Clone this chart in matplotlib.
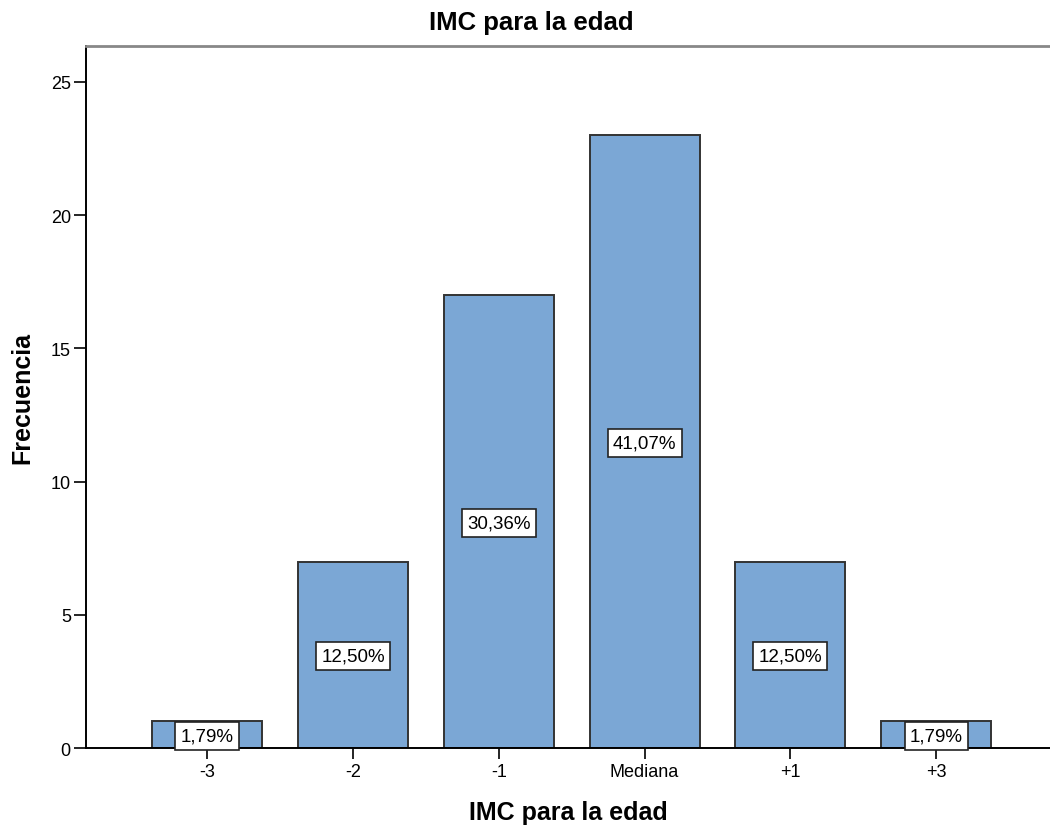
import matplotlib
matplotlib.use("Agg")
import matplotlib.pyplot as plt
import numpy as np

# data
categories = ["-3", "-2", "-1", "Mediana", "+1", "+3"]
frequencies = [1, 7, 17, 23, 7, 1]
percent_labels = ["1,79%", "12,50%", "30,36%", "41,07%", "12,50%", "1,79%"]
y_ticks = [0, 5, 10, 15, 20, 25]

plt.rcParams['font.family'] = ['Liberation Sans', 'DejaVu Sans']

fig = plt.figure(figsize=(10.5, 8.29), dpi=100)
ax = fig.add_axes([0.082, 0.0965, 0.918, 0.8468])

x = np.arange(len(categories))
ax.bar(x, frequencies, width=0.754, color="#7BA7D5", edgecolor="#333333",
       linewidth=1.4, zorder=2)

for xi, h, lbl in zip(x, frequencies, percent_labels):
    ax.text(xi, h / 2 - 0.05, lbl, ha='center', va='center', fontsize=13.5, zorder=4,
            bbox=dict(boxstyle='square,pad=0.28', facecolor='white',
                      edgecolor='#222222', linewidth=1.2))

ax.set_xlim(-0.83, 5.78)
ax.set_ylim(0, 26.35)
ax.set_xticks(x)
ax.set_xticklabels(categories, fontsize=13)
ax.set_yticks(y_ticks)
ax.set_yticklabels([str(v) for v in y_ticks], fontsize=13)
ax.tick_params(axis='x', length=8, width=1.2, pad=3)
ax.tick_params(axis='y', length=9, width=1.2, pad=2)

ax.spines['right'].set_visible(False)
ax.spines['top'].set_color('#888888')
ax.spines['top'].set_linewidth(2)
ax.spines['left'].set_linewidth(1.4)
ax.spines['bottom'].set_linewidth(1.4)

fig.text(0.506, 0.972, "IMC para la edad", fontsize=18.5, fontweight='bold',
         ha='center', va='center')
ax.set_xlabel("IMC para la edad", fontsize=18, fontweight='bold', labelpad=14)
ax.set_ylabel("Frecuencia", fontsize=18, fontweight='bold', labelpad=12)

fig.savefig("out.png", dpi=100)
